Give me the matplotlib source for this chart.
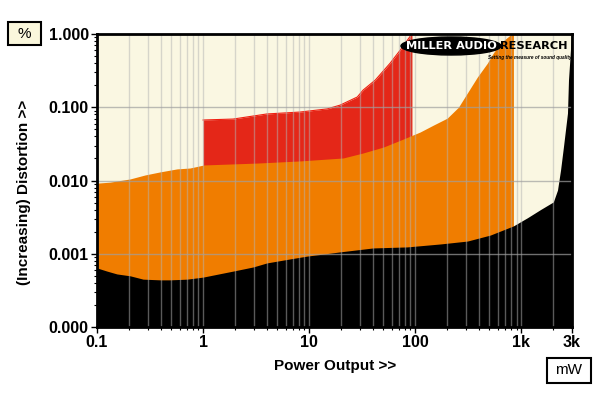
import matplotlib
matplotlib.use("Agg")
import matplotlib.pyplot as plt
import numpy as np
from matplotlib.patches import Ellipse, Rectangle

# ---------------- data ----------------
red_power = [1.0, 1.92, 4.0, 8.2, 14.8, 19.6, 28.4, 32.3, 42, 58, 72, 90, 93]
red_dist = [0.067, 0.069, 0.081, 0.086, 0.095, 0.107, 0.138, 0.172, 0.235, 0.40, 0.60, 0.94, 1.05]

orange_power = [0.1, 0.133, 0.205, 0.284, 0.393, 0.568, 0.75, 1.02, 3.23, 8.2, 20.9, 32,
                50, 77, 111, 148, 200, 255, 310, 385, 478, 544, 634, 788, 841]
orange_dist = [0.0092, 0.0095, 0.0105, 0.0119, 0.0131, 0.0144, 0.0148, 0.0163, 0.0173,
               0.0185, 0.0203, 0.0237, 0.0286, 0.0368, 0.0459, 0.057, 0.071, 0.10, 0.157,
               0.259, 0.40, 0.55, 0.75, 0.97, 1.05]

black_power = [0.1, 0.124, 0.154, 0.205, 0.272, 0.393, 0.488, 0.707, 1.0, 1.92, 2.96, 4.0,
               6.6, 9.6, 13.6, 19.5, 40, 84, 172, 310, 510, 841, 1140, 1510, 2000, 2190,
               2340, 2490, 2720, 2780, 2900, 2960, 3000]
black_dist = [0.00064, 0.00058, 0.00053, 0.00050, 0.00045, 0.00044, 0.00044, 0.00045,
              0.00048, 0.00058, 0.00066, 0.00075, 0.00085, 0.00093, 0.00099, 0.00106,
              0.0012, 0.00124, 0.00136, 0.00149, 0.0018, 0.0024, 0.0031, 0.0040, 0.0051,
              0.0074, 0.0139, 0.0286, 0.083, 0.235, 0.60, 0.97, 1.05]

x_ticks = [0.1, 1, 10, 100, 1000, 3000]
x_ticklabels = ["0.1", "1", "10", "100", "1k", "3k"]
y_ticks = [0.0001, 0.001, 0.01, 0.1, 1.0]
y_ticklabels = ["0.000", "0.001", "0.010", "0.100", "1.000"]

# ---------------- figure ----------------
plt.rcParams['font.family'] = ['Liberation Sans', 'DejaVu Sans']
W, H = 600, 393
fig = plt.figure(figsize=(6.0, 3.93), dpi=100)
fig.patch.set_facecolor("white")

L, R, T, B = 97, 572, 34, 327
ax = fig.add_axes([L / W, 1 - B / H, (R - L) / W, (B - T) / H])
ax.set_facecolor("#FAF7E2")
ax.set_xscale("log")
ax.set_yscale("log")
ax.set_xlim(0.1, 3000)
ax.set_ylim(0.0001, 1.0)

base = 1e-5
ax.fill_between(red_power, red_dist, base, color="#E42718", lw=0, zorder=2)
ax.plot(red_power, red_dist, color="#F01E10", lw=0.8, zorder=2.1)
ax.fill_between(orange_power, orange_dist, base, color="#F07D00", lw=0, zorder=3)
ax.fill_between(black_power, black_dist, base, color="#000000", lw=0, zorder=4)

# grid
minor_x = [m * 10.0 ** e for e in range(-1, 4) for m in range(1, 10)]
minor_x = [v for v in minor_x if 0.1 < v < 3000]
for v in minor_x:
    ax.axvline(v, color="#b4b4b4", lw=1.0, alpha=0.5, zorder=5)
for v in [0.001, 0.01, 0.1]:
    ax.axhline(v, color="#a0a0a0", lw=1.0, alpha=0.7, zorder=5)

ax.set_xticks(x_ticks)
ax.set_xticklabels(x_ticklabels, fontsize=11.5, fontweight="bold")
ax.set_xticks([v for v in minor_x if v not in x_ticks], minor=True)
ax.set_xticklabels([], minor=True)
ax.set_yticks(y_ticks)
ax.set_yticklabels(y_ticklabels, fontsize=11.5, fontweight="bold")
ax.set_yticks([m * 10.0 ** e for e in range(-4, 0) for m in range(2, 10)], minor=True)
ax.set_yticklabels([], minor=True)
ax.tick_params(axis="both", which="major", length=4, width=1, direction="out", pad=2)
ax.tick_params(axis="both", which="minor", length=2.5, width=0.8, direction="out")

for s in ax.spines.values():
    s.set_linewidth(2)
    s.set_color("black")
    s.set_zorder(10)

# labels
fig.text(335 / W, 1 - 366 / H, "Power Output >>", ha="center", va="center",
         fontsize=11, fontweight="bold")
fig.text(24 / W, 1 - 192 / H, "(Increasing) Distortion >>", ha="center", va="center",
         rotation=90, fontsize=11, fontweight="bold")

# boxes
fig.patches.append(Rectangle((8 / W, 1 - 45 / H), 33 / W, 23 / H, transform=fig.transFigure,
                             facecolor="#FAF7DC", edgecolor="black", lw=1.5))
fig.text(24.5 / W, 1 - 33.5 / H, "%", ha="center", va="center", fontsize=11)
fig.patches.append(Rectangle((547 / W, 1 - 383 / H), 44 / W, 25 / H, transform=fig.transFigure,
                             facecolor="white", edgecolor="black", lw=1.5))
fig.text(569 / W, 1 - 370.5 / H, "mW", ha="center", va="center", fontsize=11)

# logo
fig.patches.append(Ellipse((451 / W, 1 - 46 / H), 100 / W, 18 / H, transform=fig.transFigure,
                           facecolor="black", edgecolor="black", zorder=20))
fig.text(451 / W, 1 - 46 / H, "MILLER AUDIO", ha="center", va="center", color="white",
         fontsize=8.2, fontweight="heavy", family="DejaVu Sans", zorder=21)
fig.text(534 / W, 1 - 46 / H, "RESEARCH", ha="center", va="center", color="black",
         fontsize=8.2, fontweight="heavy", family="DejaVu Sans", zorder=21)
fig.text(530 / W, 1 - 57 / H, "Setting the measure of sound quality", ha="center", va="center",
         color="black", fontsize=3.4, fontweight="bold", style="italic", zorder=21)

fig.savefig("out.png", dpi=100)
